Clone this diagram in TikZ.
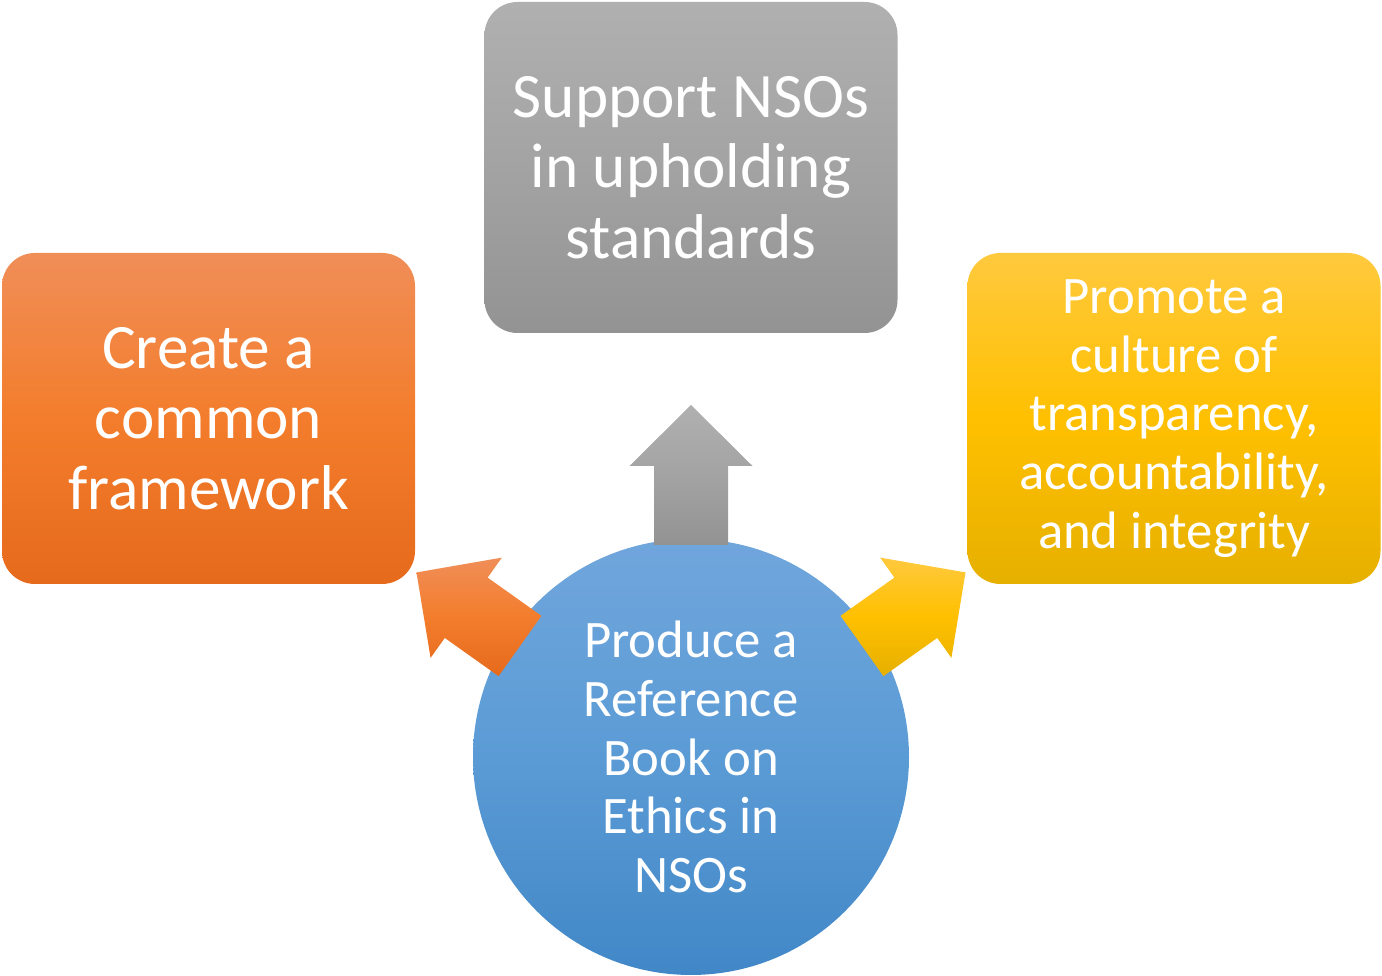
\documentclass[tikz,border=0pt]{standalone}
\usepackage{fontspec}
\setmainfont{Carlito}
\usetikzlibrary{calc}
\definecolor{orangeA}{HTML}{F08E58}
\definecolor{orangeB}{HTML}{F37D2C}
\definecolor{orangeC}{HTML}{E66A1C}
\definecolor{grayA}{HTML}{B0B0B0}
\definecolor{grayB}{HTML}{A3A3A3}
\definecolor{grayC}{HTML}{939393}
\definecolor{yellowA}{HTML}{FFC93E}
\definecolor{yellowB}{HTML}{FFC000}
\definecolor{yellowC}{HTML}{E6B000}
\definecolor{blueA}{HTML}{70A6DC}
\definecolor{blueB}{HTML}{5B9BD5}
\definecolor{blueC}{HTML}{4187C7}
\newcommand{\blockarrow}[4]{%
	\shade[#1] ($(#2)+(#3+90:0.37)$)
		-- ($(#2)+(#3:#4)+(#3+90:0.37)$)
		-- ($(#2)+(#3:#4)+(#3+90:0.615)$)
		-- ($(#2)+(#3:#4+0.61)$)
		-- ($(#2)+(#3:#4)+(#3-90:0.615)$)
		-- ($(#2)+(#3:#4)+(#3-90:0.37)$)
		-- ($(#2)+(#3-90:0.37)$) -- cycle;}
\begin{document}
\begin{tikzpicture}[every node/.style={text=white,align=center,inner sep=0pt},
					    goalbox/.style={rounded corners=0.33cm,minimum width=4.13cm,minimum height=3.31cm},
					    bigtext/.style={font=\fontsize{18}{20}\selectfont},
					    smalltext/.style={font=\fontsize{15}{16.7}\selectfont},
					    orangefill/.style={top color=orangeA,bottom color=orangeC,middle color=orangeB},
					    grayfill/.style={top color=grayA,bottom color=grayC,middle color=grayB},
					    yellowfill/.style={top color=yellowA,bottom color=yellowC,middle color=yellowB},
					    bluefill/.style={top color=blueA,bottom color=blueC,middle color=blueB}]
				\useasboundingbox (0,0) rectangle (13.82,9.76);
				\node[goalbox,orangefill,bigtext] (frame) at (2.085,5.575) {Create a\\common\\framework};
				\node[goalbox,grayfill,bigtext] (support) at (6.91,8.085) {Support NSOs\\in upholding\\standards};
				\node[goalbox,yellowfill,smalltext] (culture) at (11.74,5.575) {Promote a\\culture of\\transparency,\\accountability,\\and integrity};
				\node[circle,minimum size=4.36cm,bluefill,smalltext] (core) at (6.91,2.19) {Produce a\\Reference\\Book on\\Ethics in\\NSOs};
				\coordinate (lbase) at ($(core.center)+(-1.71,1.11)$);
				\coordinate (tbase) at ($(core.center)+(0,2.12)$);
				\coordinate (rbase) at ($(core.center)+(1.71,1.11)$);
				\blockarrow{orangefill}{lbase}{144.6}{0.66}
				\blockarrow{grayfill}{tbase}{90}{0.79}
				\blockarrow{yellowfill}{rbase}{35.4}{0.66}
			\end{tikzpicture}
\end{document}
